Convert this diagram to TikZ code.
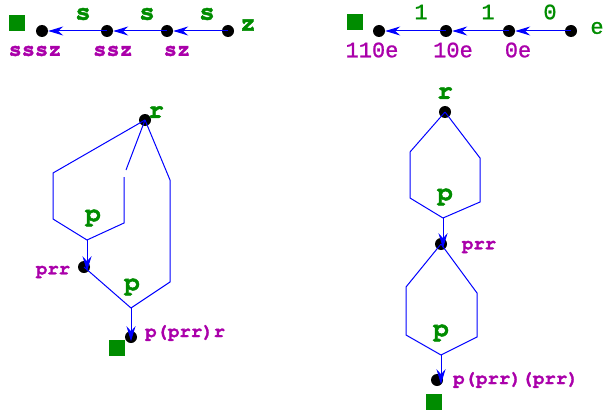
\documentclass[tikz,border=0pt]{standalone}
\usepackage{fontspec}
\newfontfamily\curmono{texgyrecursor}[Extension=.otf, UprightFont=*-regular,
  BoldFont=*-bold, BoldFeatures={FakeBold=1.6}]
\newfontfamily\digmono{Liberation Mono}[FakeBold=1.0]
\usepackage{xcolor}
\definecolor{labgreen}{RGB}{0,140,0}
\definecolor{labmag}{RGB}{170,0,170}
\usetikzlibrary{arrows.meta,positioning}

\begin{document}
\begin{tikzpicture}[x=1pt, y=-1pt,
    dot/.style={circle, fill=black, inner sep=0pt, minimum size=12pt},
    sq/.style={rectangle, fill=labgreen, inner sep=0pt, minimum size=16pt},
    glab/.style={inner sep=0pt, text=labgreen,
                 font=\curmono\bfseries\fontsize{26}{26}\selectfont},
    mlab/.style={inner sep=0pt, text=labmag,
                 font=\curmono\bfseries\fontsize{19}{19}\selectfont},
    mtop/.style={mlab, font=\curmono\bfseries\fontsize{22}{22}\selectfont},
    gdig/.style={inner sep=0pt, text=labgreen,
                 font=\digmono\fontsize{22}{22}\selectfont},
    mdig/.style={inner sep=0pt, text=labmag,
                 font=\digmono\fontsize{22}{22}\selectfont},
    edge/.style={blue, line width=1pt},
    arr/.style={-{Stealth[length=15pt, width=9pt, inset=5pt]}, blue, line width=1pt}
  ]
    \useasboundingbox (0,0) rectangle (604,417);

    % string s s s z
    \node[sq] (sqA) at (17,23) {};
    \node[dot] (a1) at (42,31) {};
    \node[dot] (a2) at (107,31) {};
    \node[dot] (a3) at (167,31) {};
    \node[dot] (a4) at (228,31) {};
    \draw[arr] (a4.center) -- (a3);
    \draw[arr] (a3.center) -- (a2);
    \draw[arr] (a2.center) -- (a1);
    \node[glab] (s1) at (83,14) {s};
    \node[glab] (s2) at (147,14) {s};
    \node[glab] (s3) at (207,14) {s};
    \node[glab] (z) at (248,25) {z};
    \node[mtop] (w1) at (35,51) {sssz};
    \node[mtop] (w2) at (113,51) {ssz};
    \node[mtop] (w3) at (177,51) {sz};

    % string 1 1 0 e
    \node[sq] (sqB) at (355,22) {};
    \node[dot] (b1) at (379,31) {};
    \node[dot] (b2) at (446,31) {};
    \node[dot] (b3) at (509,31) {};
    \node[dot] (b4) at (571,31) {};
    \draw[arr] (b4.center) -- (b3);
    \draw[arr] (b3.center) -- (b2);
    \draw[arr] (b2.center) -- (b1);
    \node[gdig] (d1) at (421,12) {1};
    \node[gdig] (d2) at (488,12) {1};
    \node[gdig] (d3) at (550,12) {0};
    \node[gdig] (e) at (597,28) {e};
    \node[mdig] (v1) at (372,50) {110e};
    \node[mdig] (v2) at (453,50) {10e};
    \node[mdig] (v3) at (518,50) {0e};

    % nested p(prr)r
    \node[dot] (rA) at (145,120) {};
    \node[glab] (rAl) at (156,112) {r};
    \coordinate (jA) at (87,240);
    \coordinate (jB) at (131,308);
    \node[dot] (prrA) at (84,267) {};
    \node[dot] (outA) at (131,337) {};
    \draw[edge] (rA.center) -- (53,173) -- (53,219) -- (jA) -- (124,223) -- (124,177);
    \draw[edge] (126,170) -- (rA.center);
    \draw[edge] (rA.center) -- (170,180) -- (170,282) -- (jB);
    \draw[arr, shorten >=2pt] (jA) -- (jA |- prrA.south);
    \draw[edge] (prrA.center) -- (jB);
    \draw[arr, shorten >=2pt] (jB) -- (jB |- outA.south);
    \node[glab] (pA1) at (93,218) {p};
    \node[glab] (pA2) at (132,287) {p};
    \node[mlab] (prrAl) at (53,272) {prr};
    \node[mlab, anchor=west] (outAl) at (145,333) {p(prr)r};
    \node[sq] (sqC) at (117,348) {};

    % sequential p(prr)(prr)
    \node[dot] (rB) at (445,112) {};
    \node[glab] (rBl) at (445,93) {r};
    \coordinate (kA) at (443,218);
    \coordinate (kB) at (441,355);
    \node[dot] (prrB) at (441,244) {};
    \node[dot] (outB) at (437,380) {};
    \draw[edge] (rB.center) -- (410,152) -- (410,198) -- (kA);
    \draw[edge] (rB.center) -- (480,158) -- (480,202) -- (kA);
    \draw[arr, shorten >=2pt] (kA) -- (kA |- prrB.south);
    \draw[edge] (prrB.center) -- (406,287) -- (406,335) -- (kB);
    \draw[edge] (prrB.center) -- (477,293) -- (477,337) -- (kB);
    \draw[arr, shorten >=2pt] (kB) -- (kB |- outB.south);
    \node[glab] (pB1) at (445,197) {p};
    \node[glab] (pB2) at (441,333) {p};
    \node[mlab] (prrBl) at (479,247) {prr};
    \node[mlab, anchor=west] (outBl) at (453,380) {p(prr)(prr)};
    \node[sq] (sqD) at (434,402) {};
\end{tikzpicture}
\end{document}
